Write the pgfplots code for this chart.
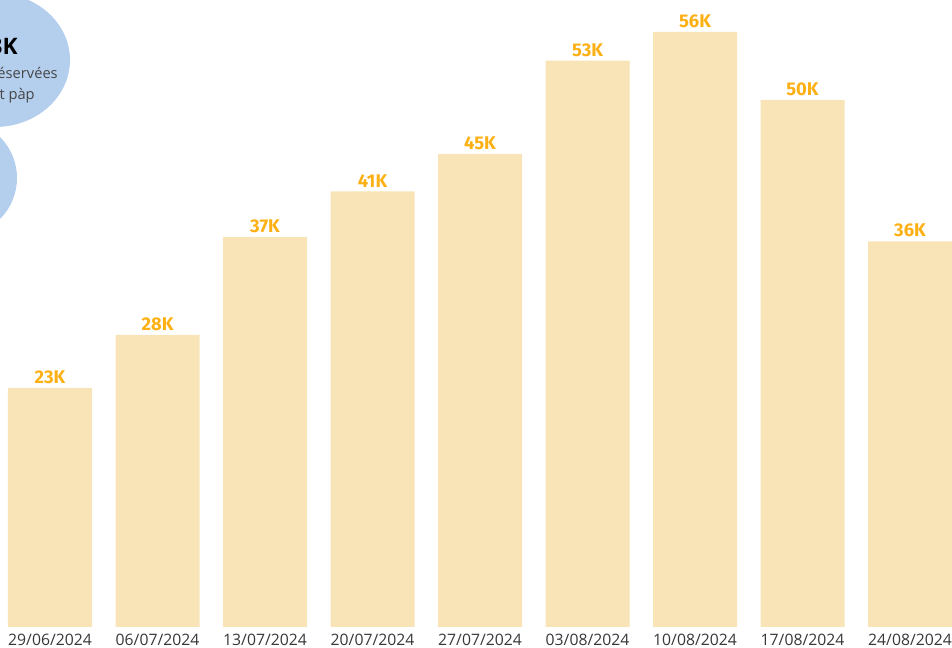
\documentclass[border=0pt]{standalone}
\usepackage{pgfplots}
\pgfplotsset{compat=1.18}
\usepackage{fontspec}
\setmainfont{Open Sans}
\newfontfamily\labfont{Fira Sans}
\definecolor{barfill}{RGB}{249,228,183}
\definecolor{lab}{RGB}{253,176,20}
\definecolor{bubble}{RGB}{180,206,238}
\definecolor{datecol}{RGB}{55,55,55}
\begin{document}
\begin{tikzpicture}
\useasboundingbox (0,0) rectangle (714pt,486pt);
\clip (0,0) rectangle (714pt,486pt);
\begin{axis}[
  at={(-2.8125pt,15.75pt)}, anchor=south west,
  scale only axis, width=725.625pt, height=470.25pt,
  xmin=-0.5, xmax=8.5, ymin=0, ymax=59.01,
  axis line style={draw=none},
  major tick length=0pt,
  ytick=\empty,
  xtick=data,
  xticklabels={29/06/2024,06/07/2024,13/07/2024,20/07/2024,27/07/2024,03/08/2024,10/08/2024,17/08/2024,24/08/2024},
  xticklabel style={font=\fontsize{11.8}{12}\selectfont, text=datecol, anchor=north, inner sep=0pt, yshift=-5pt},
  clip=false,
]
\addplot[ybar, bar width=0.7814, fill=barfill, draw=none,
  point meta=explicit symbolic,
  nodes near coords,
  nodes near coords style={font=\labfont\bfseries\fontsize{13.8}{14}\selectfont, text=lab, anchor=south, inner sep=0pt, yshift=3pt},
] coordinates {
 (0,22.5) [23K]
 (1,27.5) [28K]
 (2,36.7) [37K]
 (3,41.0) [41K]
 (4,44.5) [45K]
 (5,53.3) [53K]
 (6,56.0) [56K]
 (7,49.6) [50K]
 (8,36.3) [36K]
};
\end{axis}
\fill[bubble] (-3.75pt,441pt) ellipse [x radius=56.25pt, y radius=50.25pt];
\fill[bubble] (-30.75pt,352.5pt) circle [radius=43.5pt];
\node[anchor=base east, inner sep=0pt, font=\bfseries\fontsize{17}{18}\selectfont] at (13.5pt,444.75pt) {23K};
\node[anchor=base east, inner sep=0pt, text={rgb,255:red,70;green,70;blue,70}, font=\fontsize{11}{12}\selectfont] at (43.5pt,426.75pt) {réservées};
\node[anchor=base east, inner sep=0pt, text={rgb,255:red,70;green,70;blue,70}, font=\fontsize{11}{12}\selectfont] at (26.25pt,411pt) {dont pàp};
\end{tikzpicture}
\end{document}
